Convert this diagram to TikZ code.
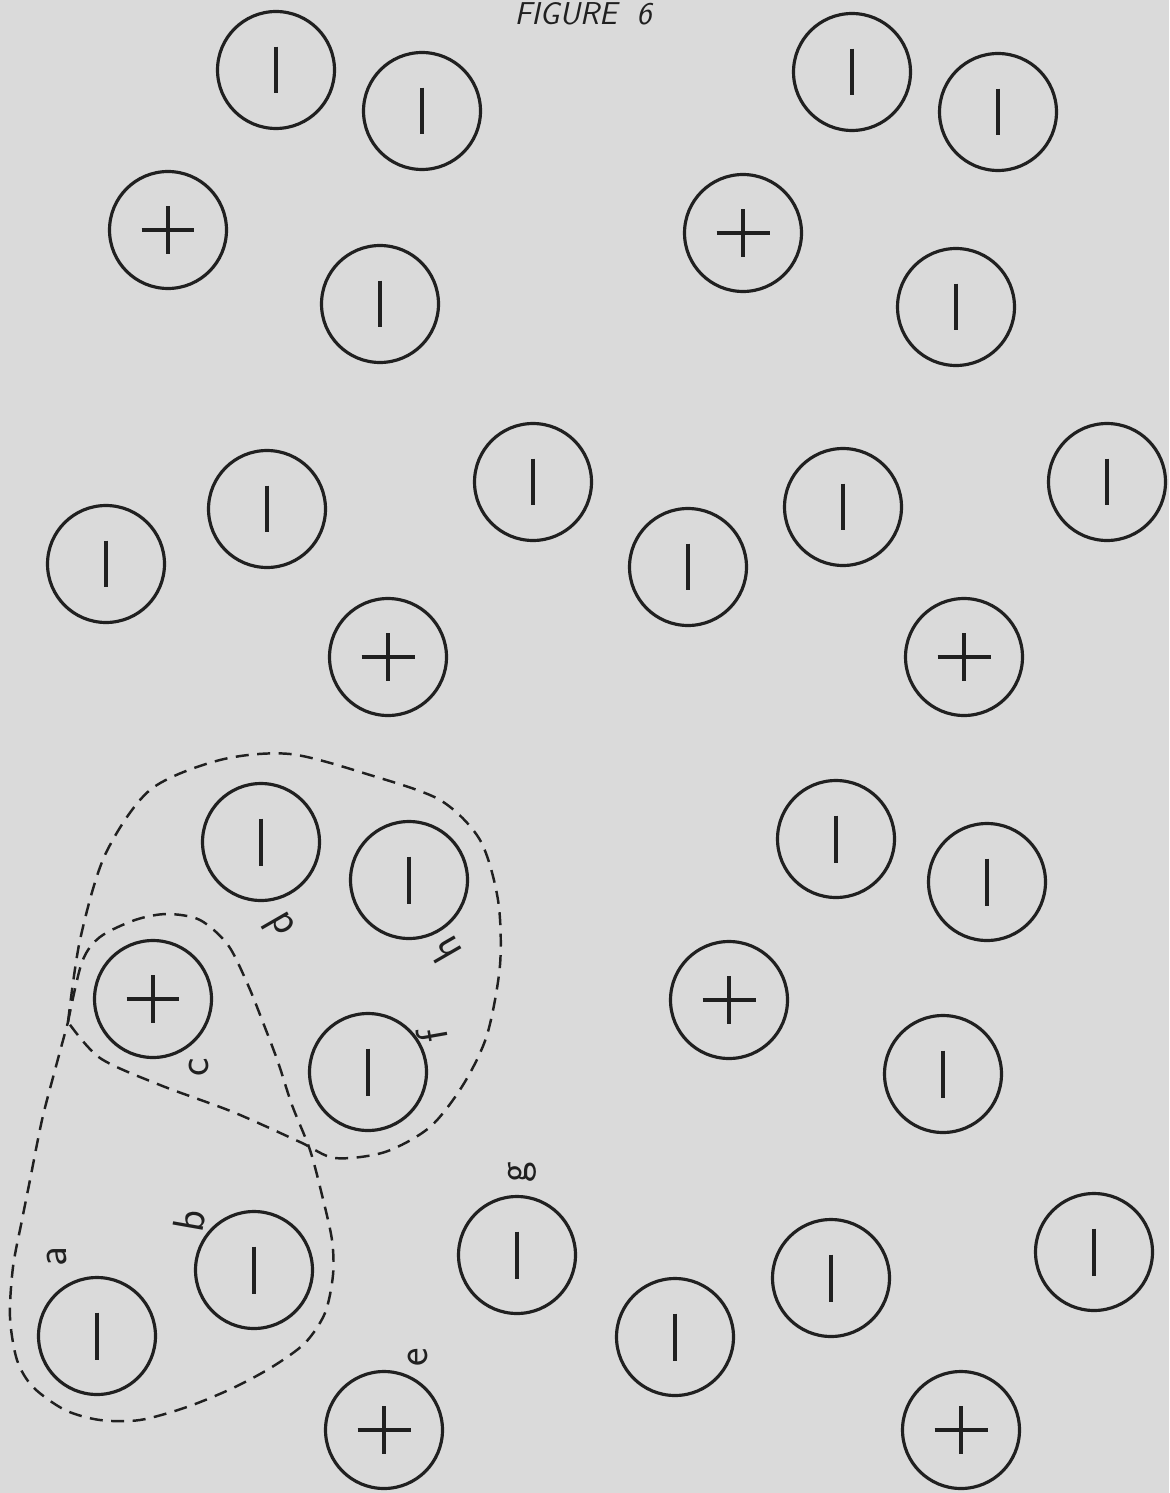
\documentclass[tikz,border=0pt]{standalone}
\definecolor{ink}{RGB}{32,32,32}
\definecolor{paper}{RGB}{218,218,218}
\begin{document}
\begin{tikzpicture}[x=0.02cm,y=-0.02cm,every node/.style={inner sep=0pt, outer sep=0pt},
ring/.style={circle, draw=ink, line width=1.8pt, minimum size=2.34cm},
barring/.style={ring, path picture={\draw[ink, line width=2.2pt] ([yshift=0.47cm]path picture bounding box.center) -- ([yshift=-0.47cm]path picture bounding box.center);}},
plusring/.style={ring, path picture={\draw[ink, line width=2.2pt] ([xshift=-0.53cm]path picture bounding box.center) -- ([xshift=0.53cm]path picture bounding box.center) ([yshift=0.48cm]path picture bounding box.center) -- ([yshift=-0.48cm]path picture bounding box.center);}},
tag/.style={font=\sffamily\fontsize{25}{25}\selectfont, text=ink, rotate=90},
border/.style={draw=ink, line width=1.4pt, dash pattern=on 0.26cm off 0.17cm}]
\useasboundingbox (0,0) rectangle (1169,1493);
\fill[paper] (0,0) rectangle (1169,1493);
\node[anchor=base, text=ink, font=\sffamily\itshape\fontsize{18}{18}\selectfont] (title) at (583,25) {FIGURE\ \ 6};
\node[barring] (ta1) at (276,70) {};
\node[barring] (ta2) at (422,111) {};
\node[plusring] (ta3) at (168,230) {};
\node[barring] (ta4) at (380,304) {};
\node[barring] (tb1) at (852,72) {};
\node[barring] (tb2) at (998,112) {};
\node[plusring] (tb3) at (743,233) {};
\node[barring] (tb4) at (956,307) {};
\node[barring] (ma1) at (106,564) {};
\node[barring] (ma2) at (267,509) {};
\node[barring] (ma3) at (533,482) {};
\node[plusring] (ma4) at (388,657) {};
\node[barring] (mb1) at (688,567) {};
\node[barring] (mb2) at (843,507) {};
\node[barring] (mb3) at (1107,482) {};
\node[plusring] (mb4) at (964,657) {};
\node[barring] (d) at (261,842) {};
\node[barring] (h) at (409,880) {};
\node[plusring] (c) at (153,999) {};
\node[barring] (f) at (368,1072) {};
\node[barring] (lb1) at (836,839) {};
\node[barring] (lb2) at (987,882) {};
\node[plusring] (lb3) at (729,1000) {};
\node[barring] (lb4) at (943,1074) {};
\node[barring] (a) at (97,1336) {};
\node[barring] (b) at (254,1270) {};
\node[barring] (g) at (517,1255) {};
\node[plusring] (e) at (384,1430) {};
\node[barring] (bb1) at (675,1337) {};
\node[barring] (bb2) at (831,1278) {};
\node[barring] (bb3) at (1094,1252) {};
\node[plusring] (bb4) at (961,1430) {};
\node[tag] (la) at (57,1257) {a};
\node[tag, rotate=-10] (lb) at (190,1220) {b};
\node[tag] (lc) at (199,1067) {c};
\node[tag, rotate=30] (ld) at (278,926) {d};
\node[tag] (le) at (418,1357) {e};
\node[tag, rotate=10] (lf) at (432,1036) {f};
\node[tag] (lg) at (522,1172) {g};
\node[tag, rotate=30] (lh) at (445,950) {h};
\draw[border] plot[smooth] coordinates {(68,1022) (80,940) (105,855) (150,790) (220,760) (290,754) (370,775) (440,800) (480,840) (498,900) (500,965) (487,1035) (463,1085) (430,1127) (385,1152) (335,1158) (300,1142) (233,1112) (160,1085) (100,1058) (68,1022)};
\draw[border] plot[smooth] coordinates {(68,1022) (82,962) (100,937) (135,920) (167,914) (200,920) (228,945) (248,985) (264,1025) (278,1062) (292,1105) (310,1150) (322,1195) (332,1240) (333,1275) (325,1313) (305,1343) (272,1367) (233,1388) (187,1407) (140,1420) (100,1420) (65,1410) (33,1387) (17,1360) (10,1317) (13,1267) (22,1220) (30,1180) (42,1120) (55,1070) (68,1022)};
\end{tikzpicture}
\end{document}
